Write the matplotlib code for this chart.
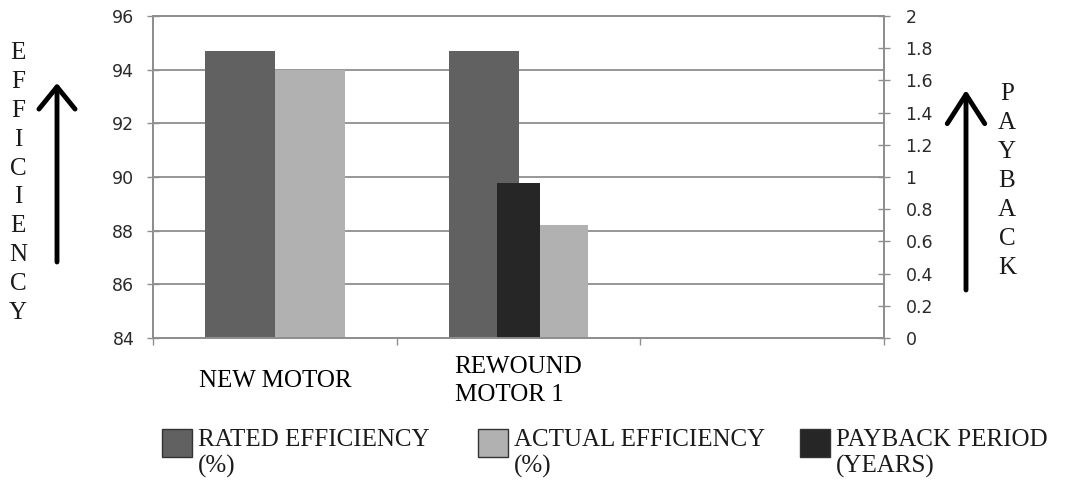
import matplotlib.pyplot as plt
from matplotlib.patches import Rectangle

# data
categories = ["NEW MOTOR", "REWOUND\nMOTOR 1", ""]
rated_eff = [94.7, 94.7, None]
actual_eff = [94.0, 88.2, None]
payback = [0, 0.96, None]

W, H = 1078, 482
serif = ["Liberation Serif", "DejaVu Serif"]

c_rated = "#616161"
c_actual = "#b1b1b1"
c_payback = "#262626"
c_grid = "#8f8f8f"

fig = plt.figure(figsize=(W / 100, H / 100), dpi=100)
ax = fig.add_axes([153 / W, 1 - 338 / H, (884 - 153) / W, (338 - 16) / H])
ax2 = ax.twinx()

x = list(range(len(categories)))
bw = 0.287
xr = [i - bw / 2 for i, v in zip(x, rated_eff) if v is not None]
xa = [i + bw / 2 for i, v in zip(x, actual_eff) if v is not None]
ax.bar(xr, [v for v in rated_eff if v is not None], width=bw, color=c_rated, zorder=2)
ax.bar(xa, [v for v in actual_eff if v is not None], width=bw, color=c_actual, zorder=2)
xp = [i for i, v in zip(x, payback) if v is not None]
ax2.bar(xp, [v for v in payback if v is not None], width=0.18, color=c_payback, zorder=2)

ax.set_xlim(-0.5, 2.5)
ax.set_ylim(84, 96)
ax.set_yticks(range(84, 97, 2))
ax2.set_ylim(0, 2)
ax2.set_yticks([i / 10 for i in range(0, 21, 2)])
ax2.set_yticklabels(["0", "0.2", "0.4", "0.6", "0.8", "1", "1.2", "1.4", "1.6", "1.8", "2"])

ax.grid(axis="y", color=c_grid, lw=1.3)
ax.set_axisbelow(True)
for a in (ax, ax2):
    for s in a.spines.values():
        s.set_color(c_grid)
        s.set_linewidth(1.3)

ax.tick_params(axis="y", direction="inout", length=9, width=1, color=c_grid,
               labelsize=12.5, labelcolor="#2a2a2a", pad=9)
ax2.tick_params(axis="y", direction="inout", length=9, width=1, color=c_grid,
                labelsize=12.5, labelcolor="#2a2a2a", pad=11)

ax.set_xticks(x)
ax.set_xticklabels(categories, fontfamily=serif, fontsize=18, multialignment="left")
ax.set_xticks([-0.5, 0.5, 1.5, 2.5], minor=True)
ax.tick_params(axis="x", which="major", length=0, pad=31)
ax.tick_params(axis="x", which="minor", direction="out", length=5, width=1, color=c_grid)
for t in ax.get_xticklabels():
    t.set_va("center")
    t.set_linespacing(1.35)

# side labels with arrows
fig.text(18 / W, 1 - 183 / H, "\n".join("EFFICIENCY"), family=serif, fontsize=18,
         ha="center", va="center", linespacing=1.41, color="#1a1a1a")
fig.text(1007 / W, 1 - 181 / H, "\n".join("PAYBACK"), family=serif, fontsize=18,
         ha="center", va="center", linespacing=1.41, color="#1a1a1a")
ax.annotate("", xy=(57 / W, 1 - 83 / H), xytext=(57 / W, 1 - 262 / H),
            xycoords="figure fraction", textcoords="figure fraction",
            arrowprops=dict(arrowstyle="->,head_length=1.6,head_width=1.3",
                            lw=3.5, color="black", shrinkA=0, shrinkB=0))
ax.annotate("", xy=(966 / W, 1 - 90 / H), xytext=(966 / W, 1 - 290 / H),
            xycoords="figure fraction", textcoords="figure fraction",
            arrowprops=dict(arrowstyle="->,head_length=2.1,head_width=1.35",
                            lw=3.5, color="black", shrinkA=0, shrinkB=0))

# legend
legend_items = [
    (162, c_rated, "RATED EFFICIENCY\n(%)"),
    (478, c_actual, "ACTUAL EFFICIENCY\n(%)"),
    (800, c_payback, "PAYBACK PERIOD\n(YEARS)"),
]
for lx, col, lab in legend_items:
    fig.add_artist(Rectangle((lx / W, 1 - 457 / H), 30 / W, 28 / H,
                             transform=fig.transFigure, facecolor=col,
                             edgecolor="#333333", lw=1))
    fig.text((lx + 36) / W, 1 - 429 / H, lab, family=serif, fontsize=18,
             ha="left", va="top", color="#1a1a1a")

fig.savefig("out.png", dpi=100)
